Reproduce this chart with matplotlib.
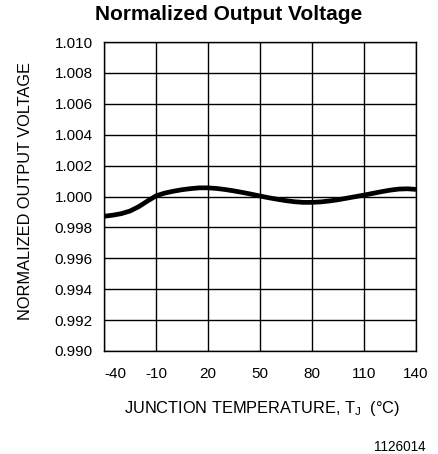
import matplotlib
matplotlib.use("Agg")
import matplotlib.pyplot as plt
import matplotlib.transforms as mtransforms
import numpy as np

temperature = [-40, -35, -30, -25, -20, -15, -10, -5, 0, 5, 10, 15, 20, 25, 30, 35,
               40, 45, 50, 55, 60, 65, 70, 75, 80, 85, 90, 95, 100, 105, 110, 115,
               120, 125, 130, 135, 140]
norm_voltage = [0.99872, 0.99879, 0.99889, 0.99906, 0.99934, 0.99970, 1.00004, 1.00022,
                1.00034, 1.00044, 1.00051, 1.00056, 1.00056, 1.00052, 1.00045, 1.00036,
                1.00026, 1.00015, 1.00003, 0.99992, 0.99982, 0.99973, 0.99966, 0.99962,
                0.99962, 0.99965, 0.99971, 0.99979, 0.99989, 0.99999, 1.00009, 1.00020,
                1.00031, 1.00041, 1.00048, 1.00050, 1.00046]
x_ticks = [-40, -10, 20, 50, 80, 110, 140]
y_ticks = [0.990, 0.992, 0.994, 0.996, 0.998, 1.000, 1.002, 1.004, 1.006, 1.008, 1.010]
y_tick_labels = ["0.990", "0.992", "0.994", "0.996", "0.998", "1.000",
                 "1.002", "1.004", "1.006", "1.008", "1.010"]

plt.rcParams['font.family'] = ['Liberation Sans', 'DejaVu Sans']

W, H = 439, 454
fig = plt.figure(figsize=(W / 100, H / 100), dpi=100)
ax = fig.add_axes([104 / W, 1 - 351 / H, (416 - 104) / W, (351 - 42) / H])

ax.plot(temperature, norm_voltage, color='black', linewidth=3.4,
        solid_capstyle='butt', solid_joinstyle='round')
ax.set_xlim(-40, 140)
ax.set_ylim(0.990, 1.010)
ax.set_xticks(x_ticks)
ax.set_xticklabels([str(t) for t in x_ticks])
ax.set_yticks(y_ticks)
ax.set_yticklabels(y_tick_labels)
ax.grid(True, color='black', linewidth=1.0)
ax.set_axisbelow(True)
for s in ax.spines.values():
    s.set_linewidth(1.0)
ax.tick_params(axis='both', length=0, labelsize=11, colors='black')
ax.tick_params(axis='x', pad=11.5)
ax.tick_params(axis='y', pad=8)

# shift first x tick label right (as in reference)
lbl = ax.get_xticklabels()[0]
lbl.set_transform(lbl.get_transform() + mtransforms.ScaledTranslation(11 / 100, 0, fig.dpi_scale_trans))

fig.text(26 / W, 1 - 191.5 / H, "NORMALIZED OUTPUT VOLTAGE", rotation=90,
         ha='center', va='center', fontsize=11.8)
fig.text(262 / W, 1 - 409 / H, "JUNCTION TEMPERATURE, T$_\\mathregular{J}$  (°C)",
         ha='center', va='center', fontsize=11.8)
fig.text(426 / W, 1 - 447 / H, "1126014", ha='right', va='center', fontsize=9.8)
fig.text(229 / W, 1 - 20 / H, "Normalized Output Voltage", ha='center', va='baseline',
         fontsize=15, fontweight='bold')

fig.savefig("out.png", dpi=100)
